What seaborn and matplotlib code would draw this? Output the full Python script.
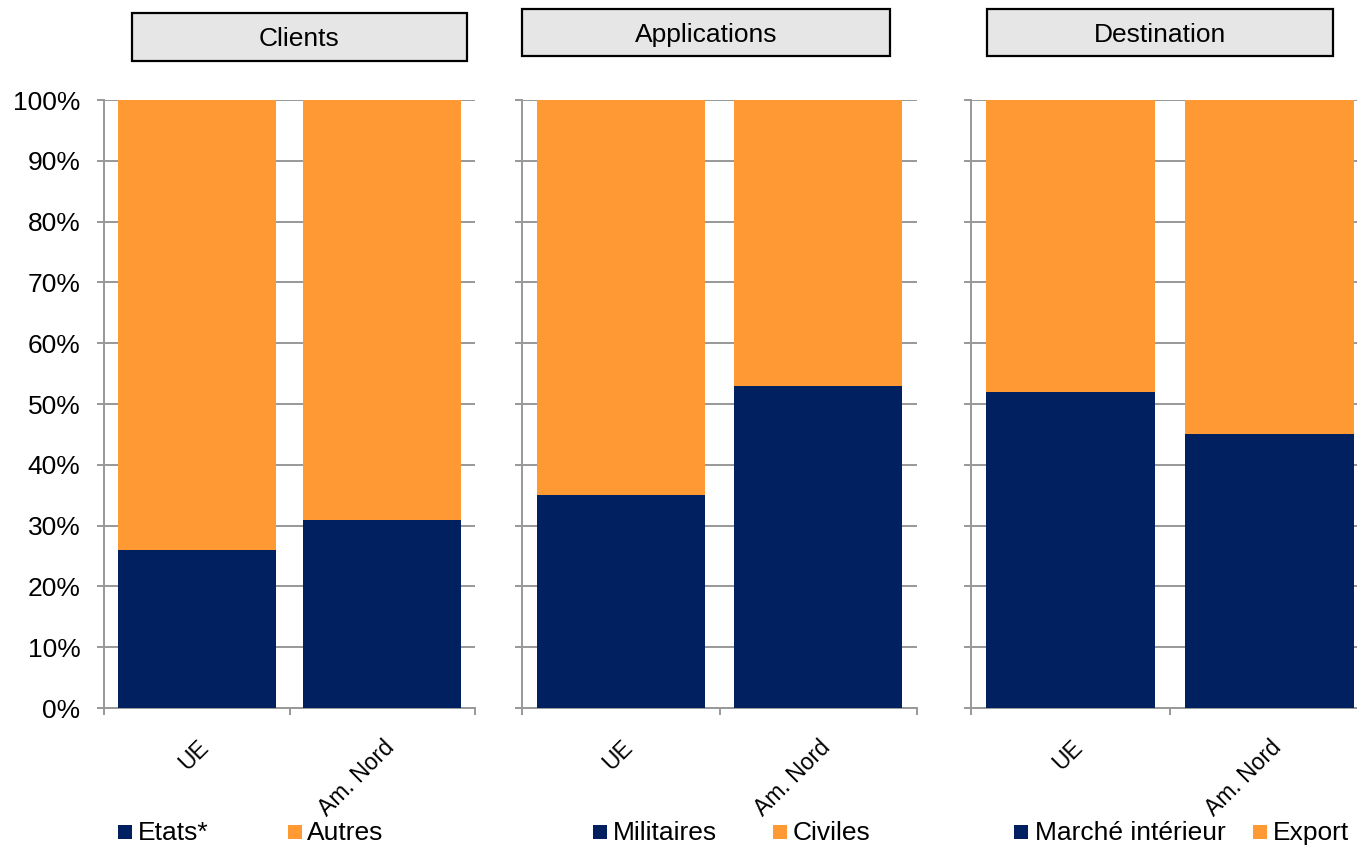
import numpy as np
import pandas as pd
import matplotlib
matplotlib.use("Agg")
import matplotlib.pyplot as plt
import seaborn as sns
from matplotlib.patches import Rectangle

# ---------------- data ----------------
panels = ["Clients", "Applications", "Destination"]
regions = ["UE", "Am. Nord"]
clients_etats = [26, 31]
applications_militaires = [35, 53]
destination_interieur = [52, 45]
totals = [100, 100]
navy_values = [clients_etats, applications_militaires, destination_interieur]
series_names = [["Etats*", "Autres"], ["Militaires", "Civiles"], ["Marché intérieur", "Export"]]
yticks = list(range(0, 101, 10))
ytick_labels = [f"{v}%" for v in yticks]

NAVY = "#002060"
ORANGE = "#FF9933"
GRID = "#989898"

sns.set_style("white")
plt.rcParams["font.family"] = ["Liberation Sans", "DejaVu Sans"]
plt.rcParams["text.color"] = "black"
plt.rcParams["xtick.labelcolor"] = "black"
plt.rcParams["ytick.labelcolor"] = "black"

W, H = 1357, 848
fig = plt.figure(figsize=(W / 100, H / 100), dpi=100)


def fx(px):
    return px / W


def fy(py):
    return 1 - py / H


axes_px = [(104, 475), (522, 917), (971, 1369)]
top_px, bot_px = 100, 708
title_boxes = [(132, 467, 13, 61), (522, 890, 9, 56), (987, 1333, 9, 56)]
legend_px = [[(118, 138), (288, 307)], [(593, 613), (773, 793)], [(1014, 1035), (1253, 1273)]]

for i, (l, r) in enumerate(axes_px):
    ax = fig.add_axes([fx(l), fy(bot_px), (r - l) / W, (bot_px - top_px) / H])
    df = pd.DataFrame({"region": regions, "total": totals, "navy": navy_values[i]})
    sns.barplot(data=df, x="region", y="total", color=ORANGE, saturation=1,
                width=0.85, ax=ax, zorder=2, linewidth=0)
    sns.barplot(data=df, x="region", y="navy", color=NAVY, saturation=1,
                width=0.85, ax=ax, zorder=3, linewidth=0)
    ax.set_xlim(-0.5, 1.5)
    ax.set_ylim(0, 100)
    ax.set_xlabel("")
    ax.set_ylabel("")
    ax.set_axisbelow(True)
    ax.set_yticks(yticks)
    ax.yaxis.grid(True, color=GRID, lw=1.4, zorder=0)
    ax.xaxis.grid(False)
    for s in ["top", "right"]:
        ax.spines[s].set_visible(False)
    for s in ["left", "bottom"]:
        ax.spines[s].set_color(GRID)
        ax.spines[s].set_linewidth(1.4)
    ax.tick_params(axis="y", which="major", left=True, length=5, width=1.4,
                   color=GRID, direction="out", pad=12, labelsize=19,
                   labelcolor="black")
    if i == 0:
        ax.set_yticklabels(ytick_labels)
    else:
        ax.tick_params(axis="y", labelleft=False)
    ax.set_xticks([-0.5, 0.5, 1.5], minor=True)
    ax.tick_params(axis="x", which="minor", bottom=True, length=5, width=1.4,
                   color=GRID, direction="out")
    ax.tick_params(axis="x", which="major", length=0, pad=20, labelcolor="black")
    ax.set_xticks([0, 1])
    ax.set_xticklabels(regions, rotation=45, ha="right", va="top",
                       rotation_mode="anchor", fontsize=16.5)

    # title box
    bl, br, bt, bb = title_boxes[i]
    fig.add_artist(Rectangle((fx(bl), fy(bb)), (br - bl) / W, (bb - bt) / H,
                             transform=fig.transFigure, facecolor="#E6E6E6",
                             edgecolor="black", lw=1.6))
    fig.text(fx((bl + br) / 2), fy((bt + bb) / 2), panels[i], ha="center",
             va="center_baseline", fontsize=19, color="black")

    # legend
    for (sq, tx), name, col in zip(legend_px[i], series_names[i], [NAVY, ORANGE]):
        fig.add_artist(Rectangle((fx(sq), fy(839)), 14 / W, 14 / H,
                                 transform=fig.transFigure, facecolor=col,
                                 edgecolor="none"))
        fig.text(fx(tx), fy(840), name, ha="left", va="baseline", fontsize=19,
                 color="black")

fig.savefig("out.png", dpi=100)
